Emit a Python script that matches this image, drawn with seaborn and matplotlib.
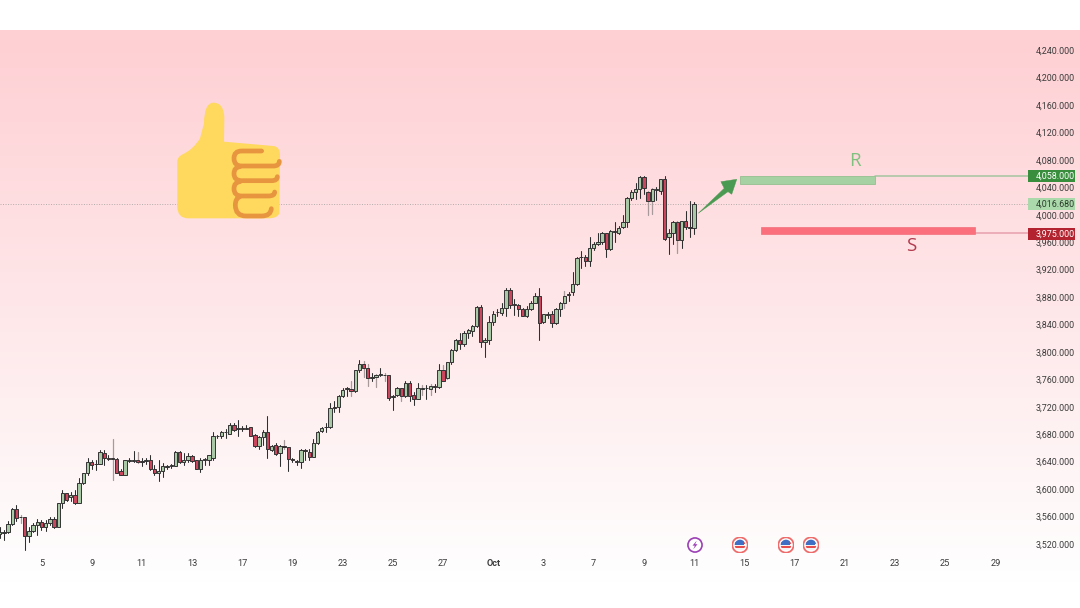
import numpy as np
import pandas as pd
import matplotlib
matplotlib.use("Agg")
import matplotlib.pyplot as plt
from matplotlib.patches import Rectangle, Circle, PathPatch, Polygon
from matplotlib.path import Path
from matplotlib.transforms import blended_transform_factory, ScaledTranslation
import seaborn as sns

# Four-hour gold candles
opens = [3536,3537,3539,3550,3572,3560,3560,3532,3540,3548,
         3553,3545,3551,3557,3545,3580,3595,3590,3593,3580,
         3610,3624,3640,3637,3638,3654,3646,3646,3645,3627,
         3622,3642,3642,3643,3642,3642,3643,3630,3625,3628,
         3633,3635,3635,3655,3640,3644,3649,3643,3631,3644,
         3644,3647,3678,3678,3684,3682,3694,3689,3690,3689,
         3691,3680,3664,3677,3684,3658,3665,3653,3664,3662,
         3645,3640,3640,3658,3655,3648,3668,3686,3691,3691,
         3721,3721,3737,3747,3747,3744,3774,3783,3777,3763,
         3764,3768,3768,3767,3736,3738,3748,3737,3756,3738,
         3732,3747,3748,3747,3751,3750,3774,3763,3786,3804,
         3818,3813,3828,3832,3839,3866,3815,3818,3844,3859,
         3858,3865,3891,3870,3870,3864,3854,3863,3873,3883,
         3844,3856,3856,3843,3864,3872,3884,3889,3900,3939,
         3940,3933,3952,3959,3962,3974,3951,3977,3975,3984,
         3991,4025,4035,4039,4056,4035,4021,4037,4036,4053,
         3968,3975,3990,3965,3992,3983,3982]
highs = [3546,3541,3554,3574,3578,3563,3561,3546,3551,3558,
         3556,3556,3560,3561,3581,3600,3596,3597,3600,3617,
         3625,3646,3643,3643,3658,3658,3651,3674,3646,3631,
         3644,3646,3657,3655,3646,3647,3651,3636,3643,3639,
         3636,3637,3656,3656,3653,3654,3650,3644,3646,3647,
         3651,3685,3680,3686,3688,3697,3697,3702,3693,3694,
         3692,3682,3679,3687,3708,3665,3668,3665,3673,3663,
         3646,3643,3659,3660,3659,3674,3686,3692,3697,3727,
         3729,3738,3748,3750,3758,3775,3790,3788,3784,3771,
         3769,3777,3771,3768,3738,3750,3749,3759,3759,3742,
         3756,3753,3753,3754,3755,3783,3782,3787,3806,3820,
         3829,3832,3834,3840,3868,3870,3821,3853,3861,3863,
         3873,3894,3894,3878,3871,3865,3868,3876,3887,3895,
         3857,3860,3861,3865,3874,3890,3889,3918,3939,3949,
         3943,3969,3962,3975,3976,3975,3979,3991,3985,4001,
         4027,4037,4048,4058,4057,4036,4040,4042,4054,4057,
         3981,3992,3992,3992,4007,4021,4020]
lows = [3529,3527,3537,3549,3554,3552,3512,3524,3539,3534,
        3541,3540,3549,3544,3545,3573,3584,3583,3579,3580,
        3609,3621,3631,3629,3637,3636,3643,3614,3624,3621,
        3621,3640,3641,3639,3635,3638,3629,3621,3613,3618,
        3631,3632,3635,3639,3636,3641,3641,3631,3626,3636,
        3636,3644,3675,3675,3675,3681,3686,3679,3686,3688,
        3678,3662,3660,3665,3646,3657,3651,3634,3660,3628,
        3641,3636,3632,3643,3643,3648,3667,3684,3685,3690,
        3713,3713,3735,3737,3737,3743,3772,3764,3752,3758,
        3750,3766,3759,3731,3717,3737,3730,3736,3730,3723,
        3732,3738,3733,3738,3742,3749,3758,3762,3784,3802,
        3806,3809,3822,3825,3838,3808,3793,3813,3840,3854,
        3855,3853,3865,3855,3854,3853,3852,3862,3872,3818,
        3843,3850,3838,3842,3853,3865,3876,3884,3899,3923,
        3926,3926,3950,3957,3959,3940,3950,3961,3973,3982,
        3984,4023,4024,4025,4031,4001,4002,4022,4032,3964,
        3944,3958,3946,3952,3980,3969,3973]
closes = [3538,3539,3550,3572,3559,3561,3532,3540,3548,3553,
          3545,3551,3557,3545,3580,3595,3585,3592,3580,3610,
          3624,3640,3636,3638,3655,3646,3645,3645,3625,3622,
          3643,3643,3643,3641,3640,3643,3630,3624,3627,3635,
          3635,3636,3655,3640,3644,3649,3642,3631,3644,3645,
          3650,3678,3679,3685,3685,3694,3687,3690,3689,3690,
          3679,3664,3677,3684,3659,3664,3652,3664,3662,3645,
          3643,3642,3658,3657,3648,3668,3685,3690,3692,3720,
          3720,3737,3746,3748,3744,3774,3783,3777,3763,3764,
          3767,3769,3767,3734,3737,3749,3737,3756,3737,3732,
          3749,3749,3749,3752,3750,3774,3759,3786,3804,3818,
          3812,3828,3833,3839,3866,3815,3818,3844,3857,3860,
          3865,3891,3870,3871,3864,3854,3863,3873,3883,3843,
          3856,3855,3843,3864,3872,3883,3885,3900,3938,3940,
          3933,3952,3958,3962,3974,3951,3978,3976,3982,3991,
          4025,4035,4038,4056,4040,4021,4038,4038,4053,3966,
          3974,3990,3964,3992,3984,3982,4016.68]

# Candles whose wicks render in a faded tone
faded_wicks = [6, 28, 34, 69, 85, 88, 89, 91, 93, 97, 102, 104, 107, 108, 136, 156, 157, 163]

# Axis content
date_labels = ["5", "9", "11", "13", "17", "19", "23", "25", "27", "Oct",
               "3", "7", "9", "11", "15", "17", "21", "23", "25", "29"]
date_positions = list(range(10, 250, 12))
price_ticks = list(range(3520, 4241, 40))

last_price = 4016.68
resistance_level = 4058.0
support_level = 3975.0

WIDTH, HEIGHT = 1080, 608


def px_box(x0, y0, x1, y1):
    """Axes rectangle from pixel edges counted from the top-left corner."""
    return [x0 / WIDTH, 1 - y1 / HEIGHT, (x1 - x0) / WIDTH, (y1 - y0) / HEIGHT]


sns.set_theme(style="white")
plt.rcParams["font.family"] = ["Roboto", "DejaVu Sans"]

fig = plt.figure(figsize=(WIDTH / 100, HEIGHT / 100), dpi=100, facecolor="white")

# Pink fade behind the whole chart
bg = fig.add_axes([0, 0, 1, 1], zorder=0)
shade = np.clip((np.arange(HEIGHT) - 30) / (582 - 30), 0, 1)
top_colour = np.array([254, 207, 211]) / 255
rows = top_colour[None, :] * (1 - shade[:, None]) + shade[:, None]
rows[:30] = 1
bg.imshow(rows[:, None, :], aspect="auto", extent=(0, 1, 0, 1), origin="upper")
bg.axis("off")

ax = fig.add_axes(px_box(0, 30, 1030, 553), zorder=1)
ax.patch.set_alpha(0)
sns.despine(ax=ax, left=True, bottom=True, right=True, top=True)

frame = pd.DataFrame({"candle": np.arange(len(opens)),
                      "open": opens, "high": highs, "low": lows, "close": closes})
frame["faded"] = (frame["candle"] + 1).isin(faded_wicks)
wicks = frame.melt(id_vars=["candle", "faded"], value_vars=["high", "low"], value_name="price")

ax.axhline(last_price, color="#b4abab", lw=0.7, ls=(0, (1, 1.6)), zorder=1)

sns.lineplot(data=wicks[wicks["faded"]], x="candle", y="price", units="candle", estimator=None,
             sort=False, color="#a89a9a", lw=0.9, legend=False, ax=ax, zorder=2)
sns.lineplot(data=wicks[~wicks["faded"]], x="candle", y="price", units="candle", estimator=None,
             sort=False, color="#2f2f2f", lw=0.75, legend=False, ax=ax, zorder=2)

rising = frame["close"] >= frame["open"]
body_low = frame[["open", "close"]].min(axis=1)
body_size = (frame["close"] - frame["open"]).abs()
ax.bar(frame["candle"], body_size, bottom=body_low, width=0.8, linewidth=0.7, edgecolor="#333333",
       color=np.where(rising, "#a9c8a5", "#cb465c"), zorder=3)

# Resistance and support zones with their level lines
ax.add_patch(Rectangle((176.9, 4046), 209.2 - 176.9, resistance_level - 4046,
                       fc="#a6d1a2", ec="#94c090", lw=0.6, zorder=3))
ax.add_patch(Rectangle((182, 3973), 233.1 - 182, 3984 - 3973,
                       fc="#fb6f7c", ec="#f0707c", lw=0.5, zorder=3))
ax.plot([209.2, 246.2], [resistance_level] * 2, color="#a3c4a0", lw=1.1, zorder=2)
ax.plot([233.1, 246.2], [support_level - 1] * 2, color="#e7a0ab", lw=1.1, zorder=2)

ax.text(204.4, 4080, "R", color="#7fc07f", fontsize=13.5, family="Open Sans", ha="center", va="center", zorder=4)
ax.text(218.0, 3956, "S", color="#b23a4e", fontsize=13.5, family="Open Sans", ha="center", va="center", zorder=4)

# Expected move arrow
ax.add_patch(Polygon([(167.0, 4003.3), (173.2, 4039.7), (172.4, 4049.4), (176.2, 4052.9),
                      (175.0, 4031.0), (174.1, 4034.8)], closed=True, fc="#4b9a52", ec="#4b9a52", lw=0.3, zorder=4))

ax.set_xlim(0.08, 246.3)
ax.set_ylim(4240 - (553 - 51) * 1.4586, 4240 + 21 * 1.4586)
ax.set_xlabel("")
ax.set_ylabel("")

ax.yaxis.tick_right()
ax.set_yticks(price_ticks)
ax.set_yticklabels([f"{p:,.3f}" for p in price_ticks])
ax.set_xticks(date_positions)
ax.set_xticklabels(date_labels)
ax.tick_params(axis="y", length=0, pad=4.3, labelsize=6.4, labelcolor="#3a3a3a")
ax.tick_params(axis="x", length=0, pad=4.6, labelsize=6.6, labelcolor="#3a3a3a")
for tick in ax.get_xticklabels():
    if tick.get_text() == "Oct":
        tick.set_fontweight("bold")
for tick in ax.get_yticklabels():
    tick.set_transform(tick.get_transform() + ScaledTranslation(0, 0.8 / 100, fig.dpi_scale_trans))

# Price tags on the right-hand scale
tag_transform = blended_transform_factory(ax.transAxes, ax.transData)
tags = [(resistance_level, "4,058.000", "#388e3c", "white"),
        (last_price, "4,016.680", "#abd9ab", "#2c3a2c"),
        (support_level - 1.5, "3,975.000", "#b2232f", "white")]
for level, text, fill, ink in tags:
    ax.add_patch(Rectangle((0.9985, level - 8.7), 47 / 1030, 17.4, transform=tag_transform,
                           fc=fill, ec="none", clip_on=False, zorder=5))
    ax.text(1 + 6 / 1030, level, text, transform=tag_transform, color=ink, fontsize=6.4,
            va="center", ha="left", clip_on=False, zorder=6)

# Thumbs-up emblem
icon = fig.add_axes(px_box(160, 90, 300, 230), zorder=3)
icon.set_xlim(0, 420)
icon.set_ylim(420, 0)
icon.axis("off")
M, L, C = Path.MOVETO, Path.LINETO, Path.CURVE3
hand = [((52, 215), M), ((52, 200), C), ((68, 193), C), ((100, 178), C), ((120, 145), C),
        ((132, 100), L), ((132, 40), C), ((160, 38), C), ((190, 38), C), ((193, 80), C),
        ((192, 155), L), ((340, 168), L), ((362, 170), C), ((360, 200), C), ((358, 370), L),
        ((352, 385), C), ((325, 385), C), ((85, 385), L), ((52, 385), C), ((52, 350), C), ((52, 215), L)]
icon.add_patch(PathPatch(Path([p for p, _ in hand], [c for _, c in hand]), fc="#ffd85e", ec="none"))
finger_paths = [
    ([(305, 183), (245, 183), (222, 183), (222, 205), (222, 228), (245, 228), (340, 228), (358, 228), (358, 214)],
     [M, L, C, C, C, C, L, C, C]),
    ([(240, 230), (222, 232), (222, 251), (222, 272), (245, 272), (335, 272), (352, 272), (352, 260)],
     [M, C, C, C, C, L, C, C]),
    ([(240, 275), (222, 277), (222, 296), (222, 318), (245, 318), (325, 318), (344, 318), (344, 306)],
     [M, C, C, C, C, L, C, C]),
    ([(240, 320), (226, 325), (226, 345), (226, 378), (258, 378), (305, 378), (332, 378), (334, 356)],
     [M, C, C, C, C, L, C, C]),
]
for points, codes in finger_paths:
    icon.add_patch(PathPatch(Path(points, codes), fc="none", ec="#e8953f", lw=3.4, capstyle="round"))


# Economic-calendar markers along the bottom of the chart
def flag_marker(cx, cy=545, half=8):
    badge = fig.add_axes(px_box(cx - half, cy - half, cx + half, cy + half), zorder=3)
    badge.set_xlim(-1.02, 1.02)
    badge.set_ylim(-1.02, 1.02)
    badge.axis("off")
    badge.add_patch(Circle((0, 0), 0.98, fc="white", ec="#ee6c6c", lw=1.3))
    disc = Circle((0, 0), 0.68, transform=badge.transData)
    for i, y in enumerate(np.linspace(0.68, -0.68, 6)[:-1]):
        stripe = Rectangle((-0.8, y - 0.272), 1.6, 0.272, fc="#e84d4d" if i % 2 else "#f4f4f4", ec="none")
        badge.add_patch(stripe)
        stripe.set_clip_path(disc)
    canton = Rectangle((-0.8, 0), 1.3, 0.75, fc="#3f6fc4", ec="none")
    badge.add_patch(canton)
    canton.set_clip_path(disc)


bolt_badge = fig.add_axes(px_box(687, 537, 703, 553), zorder=3)
bolt_badge.set_xlim(-1.02, 1.02)
bolt_badge.set_ylim(-1.02, 1.02)
bolt_badge.axis("off")
bolt_badge.add_patch(Circle((0, 0), 0.9, fc="white", ec="#9c3fb5", lw=1.2))
bolt_badge.add_patch(Polygon([(0.22, 0.55), (-0.32, -0.08), (-0.02, -0.08), (-0.22, -0.55),
                              (0.32, 0.1), (0.02, 0.1)], closed=True, fc="#9c3fb5", ec="none"))

for centre in (740, 786, 811):
    flag_marker(centre)

fig.savefig("out.png", dpi=100, facecolor="white")
